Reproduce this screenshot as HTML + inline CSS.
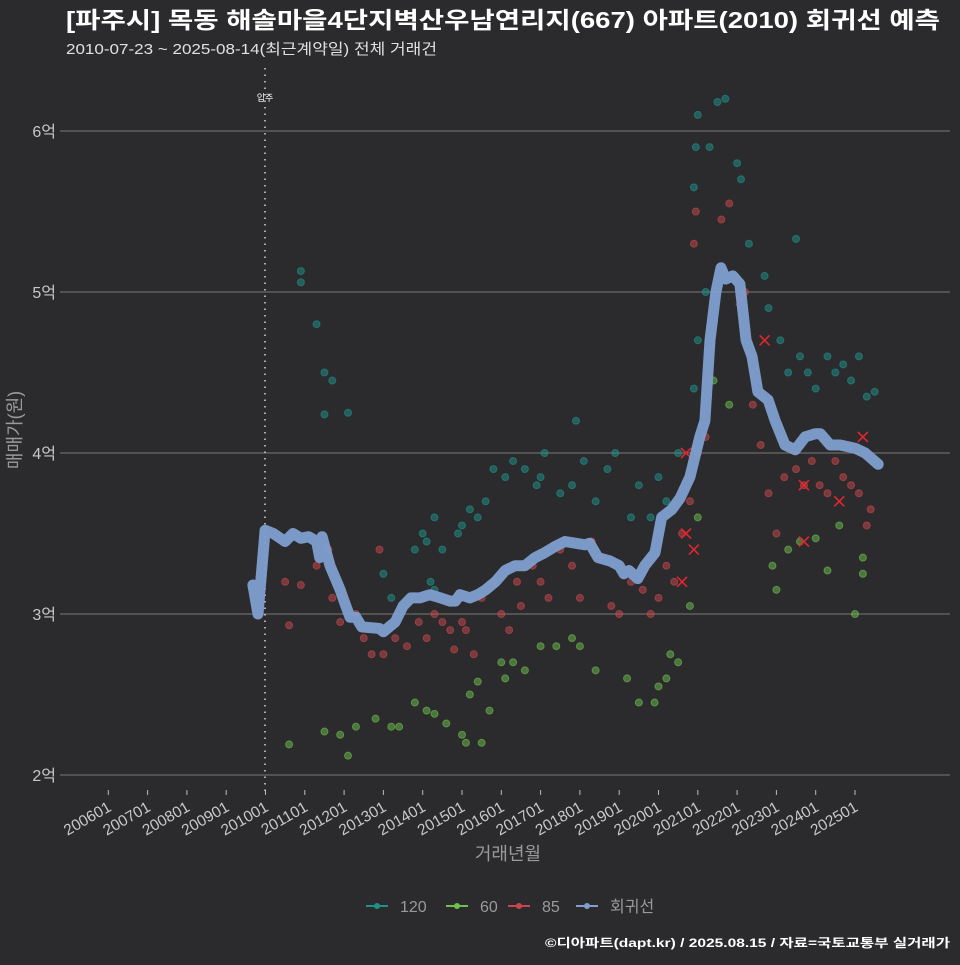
<!DOCTYPE html>
<html><head><meta charset="utf-8"><style>
body{margin:0;background:#2b2b2d;}
svg text{font-family:"Liberation Sans","Noto Sans CJK KR",sans-serif;}
</style></head><body>
<svg width="960" height="960" xmlns="http://www.w3.org/2000/svg">
<rect width="960" height="960" fill="#2b2b2d"/>
<text x="66" y="28" fill="#ffffff" font-size="23" font-weight="bold" textLength="874" lengthAdjust="spacingAndGlyphs">[파주시] 목동 해솔마을4단지벽산우남연리지(667) 아파트(2010) 회귀선 예측</text>
<text x="66" y="54" fill="#e0e0e0" font-size="15" textLength="371" lengthAdjust="spacingAndGlyphs">2010-07-23 ~ 2025-08-14(최근계약일) 전체 거래건</text>
<g id="grid"></g>
<g id="marks"></g>
<text transform="translate(21,430) rotate(-90)" text-anchor="middle" fill="#9a9a9a" font-size="18">매매가(원)</text>
<text x="508" y="860" text-anchor="middle" fill="#9a9a9a" font-size="18">거래년월</text>
<g id="legend"></g>
<text x="950" y="947" text-anchor="end" fill="#ffffff" font-size="12" font-weight="bold" textLength="405" lengthAdjust="spacingAndGlyphs">©디아파트(dapt.kr) / 2025.08.15 / 자료=국토교통부 실거래가</text>
</svg>
<script>
const yTicks=[2,3,4,5,6];
const yTickLabels=["2억","3억","4억","5억","6억"];
const xTickYears=[2006,2007,2008,2009,2010,2011,2012,2013,2014,2015,2016,2017,2018,2019,2020,2021,2022,2023,2024,2025];
const xTickLabels=["200601","200701","200801","200901","201001","201101","201201","201301","201401","201501","201601","201701","201801","201901","202001","202101","202201","202301","202401","202501"];
const moveInYear=2010;
const lineX=[2009.68,2009.81,2009.99,2010.2,2010.5,2010.7,2010.9,2011.1,2011.3,2011.38,2011.44,2011.64,2011.9,2012.0,2012.15,2012.3,2012.45,2012.9,2013.0,2013.3,2013.5,2013.7,2013.93,2014.18,2014.45,2014.7,2014.83,2014.95,2015.2,2015.4,2015.6,2015.85,2016.1,2016.35,2016.6,2016.86,2017.1,2017.37,2017.62,2017.88,2018.13,2018.25,2018.46,2018.76,2019.0,2019.12,2019.25,2019.47,2019.65,2019.91,2020.08,2020.34,2020.55,2020.8,2021.05,2021.18,2021.31,2021.46,2021.59,2021.71,2021.89,2022.07,2022.23,2022.38,2022.53,2022.79,2022.97,2023.22,2023.48,2023.73,2023.99,2024.12,2024.37,2024.62,2025.0,2025.26,2025.59];
const lineY=[3.18,3.0,3.52,3.5,3.45,3.5,3.47,3.48,3.45,3.35,3.48,3.3,3.15,3.08,2.98,2.98,2.92,2.91,2.89,2.95,3.05,3.1,3.1,3.12,3.1,3.08,3.08,3.12,3.1,3.12,3.15,3.2,3.27,3.3,3.3,3.35,3.38,3.42,3.45,3.44,3.43,3.44,3.35,3.33,3.3,3.25,3.27,3.22,3.3,3.38,3.6,3.65,3.72,3.85,4.1,4.2,4.7,5.0,5.15,5.08,5.1,5.05,4.7,4.6,4.38,4.33,4.2,4.05,4.02,4.1,4.12,4.12,4.05,4.05,4.03,4.0,3.93];
const s120X=[2010.9,2010.9,2011.3,2011.5,2011.7,2011.5,2012.1,2013.0,2013.2,2013.8,2014.0,2014.1,2014.2,2014.3,2014.5,2014.3,2014.9,2015.0,2015.2,2015.4,2015.6,2015.8,2016.1,2016.3,2016.6,2016.9,2017.0,2017.1,2017.5,2017.8,2017.9,2018.1,2018.4,2018.7,2018.9,2019.3,2019.5,2019.8,2020.0,2020.2,2020.5,2020.9,2021.0,2021.2,2020.9,2020.95,2021.0,2021.3,2021.5,2021.7,2022.0,2022.1,2022.3,2022.7,2022.8,2023.1,2023.3,2023.5,2023.6,2023.8,2024.0,2024.3,2024.5,2024.7,2024.9,2025.1,2025.3,2025.5];
const s120Y=[5.13,5.06,4.8,4.5,4.45,4.24,4.25,3.25,3.1,3.4,3.5,3.45,3.2,3.6,3.4,3.15,3.5,3.55,3.65,3.6,3.7,3.9,3.85,3.95,3.9,3.8,3.85,4.0,3.75,3.8,4.2,3.95,3.7,3.9,4.0,3.6,3.8,3.6,3.85,3.7,4.0,4.4,4.7,5.0,5.65,5.9,6.1,5.9,6.18,6.2,5.8,5.7,5.3,5.1,4.9,4.7,4.5,5.33,4.6,4.5,4.4,4.6,4.5,4.55,4.45,4.6,4.35,4.38];
const s60X=[2010.6,2011.5,2011.9,2012.1,2012.3,2012.8,2013.2,2013.4,2013.8,2014.1,2014.3,2014.6,2015.0,2015.1,2015.2,2015.4,2015.5,2015.7,2016.0,2016.1,2016.3,2016.6,2017.0,2017.4,2017.8,2018.0,2018.4,2019.2,2019.5,2019.9,2020.0,2020.2,2020.3,2020.5,2020.8,2021.0,2021.4,2021.8,2022.9,2023.0,2023.3,2023.6,2024.0,2024.3,2024.6,2025.0,2025.2,2025.2];
const s60Y=[2.19,2.27,2.25,2.12,2.3,2.35,2.3,2.3,2.45,2.4,2.38,2.32,2.25,2.2,2.5,2.58,2.2,2.4,2.7,2.6,2.7,2.65,2.8,2.8,2.85,2.8,2.65,2.6,2.45,2.45,2.55,2.6,2.75,2.7,3.05,3.6,4.45,4.3,3.3,3.15,3.4,3.45,3.47,3.27,3.55,3.0,3.25,3.35];
const s85X=[2010.5,2010.6,2010.9,2011.3,2011.6,2011.7,2011.9,2012.3,2012.5,2012.7,2012.9,2013.0,2013.3,2013.6,2013.9,2014.1,2014.3,2014.5,2014.7,2014.8,2015.0,2015.1,2015.3,2015.5,2015.8,2016.0,2016.2,2016.4,2016.5,2016.8,2017.0,2017.2,2017.5,2017.8,2018.0,2018.3,2018.5,2018.8,2019.0,2019.3,2019.6,2019.8,2020.0,2020.2,2020.4,2020.6,2020.8,2020.9,2020.95,2021.0,2021.2,2021.6,2021.8,2022.2,2022.4,2022.6,2022.8,2023.0,2023.2,2023.5,2023.7,2023.9,2024.1,2024.3,2024.5,2024.7,2024.9,2025.1,2025.3,2025.4];
const s85Y=[3.2,2.93,3.18,3.3,3.4,3.1,2.95,3.0,2.85,2.75,3.4,2.75,2.85,2.8,2.95,2.85,3.0,2.95,2.9,2.78,2.95,2.9,2.75,3.1,3.2,3.0,2.9,3.2,3.05,3.3,3.2,3.1,3.4,3.3,3.1,3.45,3.35,3.05,3.0,3.2,3.15,3.0,3.1,3.3,3.2,3.5,3.7,5.3,5.5,4.0,4.1,5.45,5.55,5.0,4.3,4.05,3.75,3.5,3.85,3.9,3.8,3.95,3.8,3.75,3.95,3.85,3.8,3.75,3.55,3.65];
const crossX=[2020.6,2020.7,2020.9,2020.7,2022.1,2022.7,2023.7,2023.7,2024.6,2025.2];
const crossY=[3.2,3.5,3.4,4.0,4.95,4.7,3.8,3.45,3.7,4.1];

const NS="http://www.w3.org/2000/svg";
const X0=60,X1=950;
function xs(yr){return 108.3+(yr-2006)*39.3;}
function ys(v){return 775-(v-2)*161;}
function mk(tag,attrs,parent){const e=document.createElementNS(NS,tag);for(const k in attrs)e.setAttribute(k,attrs[k]);parent.appendChild(e);return e;}
const grid=document.getElementById('grid'),marks=document.getElementById('marks'),legend=document.getElementById('legend');
yTicks.forEach((t,i)=>{
 const l=mk('line',{x1:X0,x2:X1,y1:ys(t),y2:ys(t),stroke:'#6a6a6a','stroke-width':1.2},grid);
 
 
 const tx=mk('text',{x:56,y:ys(t)+6,'text-anchor':'end',fill:'#c8c8c8','font-size':16},grid);
 tx.textContent=yTickLabels[i];
 
 
});
xTickYears.forEach((t,i)=>{
 const x=xs(t);
 const tk=mk('line',{x1:x,x2:x,y1:790,y2:795,stroke:'#bbb','stroke-width':1},grid);
 
 
 const tx=mk('text',{transform:`translate(${x+4},${810}) rotate(-30)`,'text-anchor':'end',fill:'#c8c8c8','font-size':15.5},grid);
 tx.textContent=xTickLabels[i];
 
 
});
const mv=mk('line',{x1:xs(moveInYear)-0.5,x2:xs(moveInYear)-0.5,y1:68,y2:795,stroke:'#cccccc','stroke-width':1.6,'stroke-dasharray':'1.5 5'},grid);


const mvt=mk('text',{x:xs(moveInYear)-0.5,y:101,'text-anchor':'middle',fill:'#fff','font-size':9},grid);
mvt.textContent='입주';


function pts(X,Y,col,name){X.forEach((x,i)=>{const c=mk('circle',{cx:xs(x),cy:ys(Y[i]),r:3.5,fill:col,'fill-opacity':0.5,stroke:col,'stroke-opacity':0.6},marks);
 
 });}
pts(s120X,s120Y,'#20918a','point-120');
pts(s60X,s60Y,'#6ec04e','point-60');
pts(s85X,s85Y,'#c9474c','point-85');
crossX.forEach((x,i)=>{const cx=xs(x),cy=ys(crossY[i]);
 const p=mk('path',{d:`M${cx-5},${cy-5}L${cx+5},${cy+5}M${cx-5},${cy+5}L${cx+5},${cy-5}`,stroke:'#e0262e','stroke-width':1.6},marks);
 
 });
const d=lineX.map((x,i)=>(i?'L':'M')+xs(x).toFixed(1)+','+ys(lineY[i]).toFixed(1)).join('');
const rl=mk('path',{d:d,fill:'none',stroke:'#7f9fcf','stroke-width':11,'stroke-linejoin':'round','stroke-linecap':'round','stroke-opacity':0.95},marks);


const legItems=[['120','#20918a',366],['60','#6ec04e',446],['85','#c9474c',508],['회귀선','#7f9fcf',576]];
legItems.forEach(([lab,col,x])=>{
 const g=mk('g',{},legend);
 
 
 mk('line',{x1:x,x2:x+22,y1:906,y2:906,stroke:col,'stroke-width':2},g);
 mk('circle',{cx:x+11,cy:906,r:3,fill:col},g);
 const t=mk('text',{x:x+34,y:912,fill:'#9a9a9a','font-size':16},g);t.textContent=lab;
});
</script>
</body></html>
